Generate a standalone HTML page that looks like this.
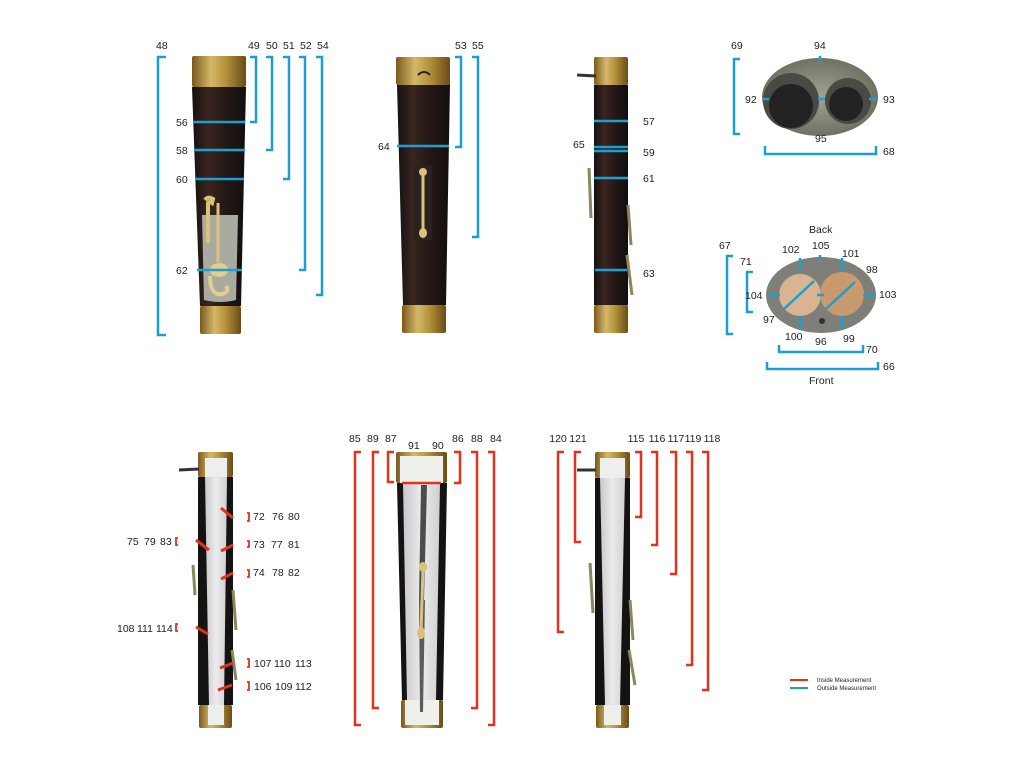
<!DOCTYPE html>
<html><head><meta charset="utf-8"><style>
html,body{margin:0;padding:0;background:#fff;}
svg{display:block;}
text{font-family:"Liberation Sans",sans-serif;font-size:10.5px;fill:#222;}
</style></head><body>
<svg width="1024" height="768" viewBox="0 0 1024 768" xmlns="http://www.w3.org/2000/svg">
<defs>
<linearGradient id="br" x1="0" x2="1"><stop offset="0" stop-color="#7a5a1c"/><stop offset=".35" stop-color="#d4b868"/><stop offset=".6" stop-color="#b8953e"/><stop offset="1" stop-color="#6b4c16"/></linearGradient>
<linearGradient id="wd" x1="0" x2="1"><stop offset="0" stop-color="#141010"/><stop offset=".3" stop-color="#3a2520"/><stop offset=".6" stop-color="#241816"/><stop offset="1" stop-color="#120e0e"/></linearGradient>
<linearGradient id="wh" x1="0" x2="1"><stop offset="0" stop-color="#c8c8cc"/><stop offset=".5" stop-color="#ececee"/><stop offset="1" stop-color="#cfcfd2"/></linearGradient>
<radialGradient id="gr"><stop offset="0" stop-color="#a0a294"/><stop offset="1" stop-color="#6f7264"/></radialGradient>
</defs>
<!-- TOP LEFT TUBE -->
<polygon points="192,87 246,87 241,306 200,306" fill="url(#wd)"/>
<rect x="192" y="56" width="54" height="31" fill="url(#br)" rx="2"/>
<rect x="200" y="306" width="41" height="28" fill="url(#br)" rx="2"/>
<path d="M202,215 L238,215 L236,300 Q220,304 204,300 Z" fill="#a9aba0"/>
<path d="M205,200 q3,-4 8,-1 l-1,4 q-3,-2 -4,0 l0,40" stroke="#d9c27a" stroke-width="4" fill="none"/>
<path d="M218,203 L218,262" stroke="#d9c27a" stroke-width="3" fill="none"/>
<ellipse cx="219" cy="270" rx="9" ry="7" fill="#e2cf8c"/>
<path d="M210,276 q0,20 12,18 q8,-2 4,-8" stroke="#e2cf8c" stroke-width="4" fill="none"/>
<g stroke="#1a9fd0" stroke-width="2.5" fill="none">
<line x1="193" y1="122" x2="245" y2="122"/><line x1="194" y1="150" x2="245" y2="150"/>
<line x1="195" y1="179" x2="244" y2="179"/><line x1="197" y1="270" x2="242" y2="270"/>
<path d="M166,57 H158 V335 H166"/>
<path d="M250,57 H256 V122 H250"/><path d="M266,57 H272 V150 H266"/>
<path d="M283,57 H289 V179 H283"/><path d="M299,57 H305 V270 H299"/>
<path d="M316,57 H322 V295 H316"/>
</g>
<text x="156" y="49">48</text><text x="248" y="49">49</text><text x="266" y="49">50</text><text x="283" y="49">51</text><text x="300" y="49">52</text><text x="317" y="49">54</text>
<text x="176" y="126">56</text><text x="176" y="154">58</text><text x="176" y="183">60</text><text x="176" y="274">62</text>

<!-- TOP MIDDLE TUBE -->
<polygon points="397,84 450,84 446,305 403,305" fill="url(#wd)"/>
<rect x="396" y="57" width="54" height="28" fill="url(#br)" rx="2"/>
<rect x="402" y="305" width="44" height="28" fill="url(#br)" rx="2"/>
<path d="M418,75 q6,-6 12,0" stroke="#222" stroke-width="2" fill="none"/>
<rect x="414" y="165" width="18" height="75" fill="#2a2220"/>
<path d="M423,170 L423,232" stroke="#d9c27a" stroke-width="3"/>
<ellipse cx="423" cy="172" rx="4" ry="4" fill="#d9c27a"/><ellipse cx="423" cy="233" rx="4" ry="5" fill="#d9c27a"/>
<g stroke="#1a9fd0" stroke-width="2.5" fill="none">
<line x1="397" y1="146" x2="449" y2="146"/>
<path d="M455,57 H461 V147 H455"/><path d="M472,57 H478 V237 H472"/>
</g>
<text x="455" y="49">53</text><text x="472" y="49">55</text><text x="378" y="150">64</text>

<!-- TOP RIGHT TUBE -->
<rect x="594" y="85" width="34" height="220" fill="url(#wd)"/>
<rect x="594" y="57" width="34" height="28" fill="url(#br)" rx="2"/>
<rect x="594" y="305" width="34" height="28" fill="url(#br)" rx="2"/>
<path d="M577,75 L596,76" stroke="#333" stroke-width="3"/>
<path d="M589,168 l2,50 M628,205 l3,40 M627,255 l5,40" stroke="#8a8660" stroke-width="3" fill="none"/>
<g stroke="#1a9fd0" stroke-width="2.5" fill="none">
<line x1="594" y1="121" x2="628" y2="121"/><line x1="594" y1="147" x2="628" y2="147"/>
<line x1="594" y1="151" x2="628" y2="151"/><line x1="594" y1="178" x2="628" y2="178"/>
<line x1="595" y1="270" x2="627" y2="270"/>
</g>
<text x="643" y="125">57</text><text x="573" y="148">65</text><text x="643" y="156">59</text><text x="643" y="182">61</text><text x="643" y="277">63</text>

<!-- TOP ELLIPSE 1 -->
<ellipse cx="820" cy="97" rx="58" ry="39" fill="url(#gr)"/>
<circle cx="791" cy="101" r="28" fill="#4a4a44"/><circle cx="791" cy="106" r="22" fill="#222"/>
<circle cx="848" cy="101" r="23" fill="#4a4a44"/><circle cx="846" cy="104" r="17" fill="#222"/>
<g stroke="#1a9fd0" stroke-width="2.5" fill="none">
<path d="M740,59 H734 V134 H740"/><path d="M765,146 V154 H876 V146"/>
<line x1="820" y1="56" x2="820" y2="62"/><line x1="763" y1="99" x2="769" y2="99"/>
<line x1="818" y1="99" x2="825" y2="99"/><line x1="869" y1="99" x2="877" y2="99"/>
</g>
<text x="731" y="49">69</text><text x="814" y="49">94</text><text x="745" y="103">92</text><text x="883" y="103">93</text><text x="815" y="142">95</text><text x="883" y="155">68</text>

<!-- ELLIPSE 2 -->
<ellipse cx="821" cy="295" rx="55" ry="38" fill="#7d7f78"/>
<circle cx="800" cy="295" r="21" fill="#d8b494"/><circle cx="842" cy="294" r="22" fill="#c99a6e"/>
<circle cx="822" cy="321" r="3" fill="#333"/>
<g stroke="#1a9fd0" stroke-width="2.5" fill="none">
<path d="M733,256 H727 V334 H733"/><path d="M753,272 H747 V312 H753"/>
<path d="M779,345 V352 H863 V345"/><path d="M767,362 V369 H878 V362"/>
<line x1="784" y1="309" x2="814" y2="281"/><line x1="826" y1="309" x2="855" y2="282"/>
<line x1="800" y1="258" x2="800" y2="272"/><line x1="842" y1="258" x2="842" y2="272"/>
<line x1="800" y1="316" x2="800" y2="330"/><line x1="842" y1="316" x2="842" y2="330"/>
<line x1="820" y1="255" x2="820" y2="260"/><line x1="767" y1="295" x2="780" y2="295"/>
<line x1="863" y1="295" x2="876" y2="295"/><line x1="817" y1="295" x2="824" y2="295"/>
</g>
<text x="809" y="233">Back</text><text x="812" y="249">105</text><text x="782" y="253">102</text><text x="842" y="257">101</text><text x="866" y="273">98</text>
<text x="879" y="298">103</text><text x="745" y="299">104</text><text x="763" y="323">97</text><text x="785" y="340">100</text><text x="815" y="345">96</text><text x="843" y="342">99</text>
<text x="866" y="353">70</text><text x="883" y="370">66</text><text x="809" y="384">Front</text><text x="719" y="249">67</text><text x="740" y="265">71</text>

<!-- BOTTOM LEFT TUBE -->
<rect x="198" y="477" width="35" height="228" fill="#151212"/>
<polygon points="205,477 227,477 224,705 209,705" fill="url(#wh)"/>
<rect x="198" y="452" width="35" height="25" fill="url(#br)" rx="2"/>
<rect x="205" y="458" width="22" height="19" fill="#eeeeec"/>
<rect x="199" y="705" width="33" height="23" fill="url(#br)" rx="2"/>
<rect x="208" y="705" width="16" height="20" fill="#eeeeec"/>
<path d="M179,470 L199,469" stroke="#333" stroke-width="3"/>
<path d="M193,565 l2,30 M233,590 l3,40 M232,650 l4,30" stroke="#8a8660" stroke-width="3" fill="none"/>
<g stroke="#e0321c" stroke-width="3" fill="none">
<line x1="221" y1="508" x2="233" y2="518"/><line x1="196" y1="540" x2="209" y2="550"/>
<line x1="221" y1="551" x2="233" y2="545"/><line x1="221" y1="579" x2="233" y2="573"/>
<line x1="196" y1="627" x2="208" y2="634"/><line x1="220" y1="668" x2="233" y2="663"/>
<line x1="218" y1="690" x2="232" y2="685"/>
</g>
<g stroke="#e0321c" stroke-width="1.8" fill="none">
<path d="M247,513 H249 V521 H247"/><path d="M247,541 H249 V547 H247"/><path d="M247,570 H249 V577 H247"/>
<path d="M247,659 H249 V667 H247"/><path d="M247,682 H249 V690 H247"/>
<path d="M178,538 H176 V545 H178"/><path d="M178,624 H176 V631 H178"/>
</g>
<text x="253" y="520">72</text><text x="272" y="520">76</text><text x="288" y="520">80</text>
<text x="253" y="548">73</text><text x="271" y="548">77</text><text x="288" y="548">81</text>
<text x="253" y="576">74</text><text x="272" y="576">78</text><text x="288" y="576">82</text>
<text x="254" y="667">107</text><text x="274" y="667">110</text><text x="295" y="667">113</text>
<text x="254" y="690">106</text><text x="275" y="690">109</text><text x="295" y="690">112</text>
<text x="127" y="545">75</text><text x="144" y="545">79</text><text x="160" y="545">83</text>
<text x="117" y="632">108</text><text x="137" y="632">111</text><text x="156" y="632">114</text>

<!-- BOTTOM MIDDLE TUBE -->
<polygon points="397,483 447,483 443,700 402,700" fill="#141212"/>
<polygon points="403,483 440,483 436,700 407,700" fill="url(#wh)"/>
<rect x="396" y="452" width="51" height="31" fill="url(#br)" rx="2"/>
<rect x="400" y="456" width="43" height="27" fill="#efefec"/>
<rect x="401" y="700" width="42" height="28" fill="url(#br)" rx="2"/>
<rect x="405" y="700" width="34" height="25" fill="#efefec"/>
<polygon points="421,485 427,485 424,600 419,600" fill="#4a4e4a"/>
<polygon points="419,600 425,600 423,712 420,712" fill="#5a5e5a"/>
<path d="M423,568 L421,632" stroke="#d9c27a" stroke-width="3"/>
<ellipse cx="423" cy="567" rx="4" ry="5" fill="#d9c27a"/><ellipse cx="421" cy="633" rx="4" ry="6" fill="#d9c27a"/>
<g stroke="#e0321c" stroke-width="2.5" fill="none">
<line x1="402" y1="483" x2="441" y2="483"/>
<path d="M361,452 H355 V725 H361"/><path d="M379,452 H373 V708 H379"/>
<path d="M394,452 H388 V482 H394"/><path d="M454,452 H460 V483 H454"/>
<path d="M471,452 H477 V708 H471"/><path d="M488,452 H494 V725 H488"/>
</g>
<text x="349" y="442">85</text><text x="367" y="442">89</text><text x="385" y="442">87</text>
<text x="408" y="449">91</text><text x="432" y="449">90</text>
<text x="452" y="442">86</text><text x="471" y="442">88</text><text x="490" y="442">84</text>

<!-- BOTTOM RIGHT TUBE -->
<rect x="595" y="478" width="35" height="227" fill="#151212"/>
<polygon points="600,478 625,478 620,705 605,705" fill="url(#wh)"/>
<rect x="595" y="452" width="35" height="26" fill="url(#br)" rx="2"/>
<rect x="600" y="458" width="25" height="20" fill="#eeeeec"/>
<rect x="596" y="705" width="33" height="23" fill="url(#br)" rx="2"/>
<rect x="604" y="705" width="17" height="20" fill="#eeeeec"/>
<path d="M577,470 L596,470" stroke="#333" stroke-width="3"/>
<path d="M590,563 l3,50 M630,600 l3,40 M629,650 l6,35" stroke="#8a8660" stroke-width="3" fill="none"/>
<g stroke="#e0321c" stroke-width="2.5" fill="none">
<path d="M564,452 H558 V632 H564"/><path d="M581,452 H575 V542 H581"/>
<path d="M635,452 H641 V517 H635"/><path d="M651,452 H657 V545 H651"/>
<path d="M670,452 H676 V574 H670"/><path d="M686,452 H692 V665 H686"/>
<path d="M702,452 H708 V690 H702"/>
</g>
<g text-anchor="middle">
<text x="558" y="442">120</text><text x="578" y="442">121</text><text x="636" y="442">115</text><text x="657" y="442">116</text>
<text x="676" y="442">117</text><text x="693" y="442">119</text><text x="712" y="442">118</text>
</g>

<!-- LEGEND -->
<line x1="790" y1="680" x2="808" y2="680" stroke="#e0321c" stroke-width="2"/>
<line x1="790" y1="688" x2="808" y2="688" stroke="#1a9fd0" stroke-width="2"/>
<text x="817" y="682" style="font-size:6px">Inside Measurement</text>
<text x="817" y="690" style="font-size:6px">Outside Measurement</text>
</svg>
</body></html>
